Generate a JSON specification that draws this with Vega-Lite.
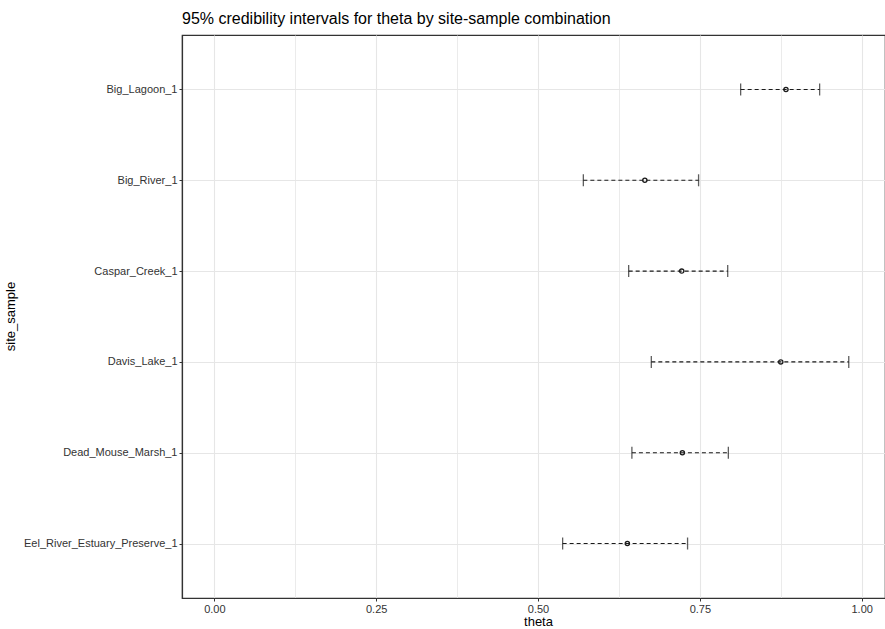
{
  "$schema": "https://vega.github.io/schema/vega-lite/v6.json",
  "autosize": {"type": "none"},
  "padding": {"left": 182, "top": 35, "right": 0, "bottom": 31},
  "width": 703,
  "height": 563,
  "background": "white",
  "config": {
    "font": "Liberation Sans",
    "view": {"stroke": "#333333", "strokeWidth": 1.2}
  },
  "title": {
    "text": "95% credibility intervals for theta by site-sample combination",
    "anchor": "start",
    "frame": "group",
    "font": "Liberation Sans",
    "fontSize": 16,
    "fontWeight": "normal",
    "color": "#000000",
    "offset": 8
  },
  "data": {
    "values": [
      {"site_sample": "Big_Lagoon_1", "low": 0.813, "mean": 0.883, "high": 0.935},
      {"site_sample": "Big_River_1", "low": 0.570, "mean": 0.665, "high": 0.748},
      {"site_sample": "Caspar_Creek_1", "low": 0.640, "mean": 0.722, "high": 0.793},
      {"site_sample": "Davis_Lake_1", "low": 0.675, "mean": 0.875, "high": 0.980},
      {"site_sample": "Dead_Mouse_Marsh_1", "low": 0.645, "mean": 0.723, "high": 0.794},
      {"site_sample": "Eel_River_Estuary_Preserve_1", "low": 0.538, "mean": 0.638, "high": 0.731}
    ]
  },
  "encoding": {
    "y": {
      "field": "site_sample",
      "type": "nominal",
      "sort": null,
      "scale": {"type": "point", "padding": 0.6},
      "axis": {
        "title": "site_sample",
        "titleFont": "Liberation Sans",
        "titleFontSize": 13,
        "titleFontWeight": "normal",
        "titleColor": "#000000",
        "titleAngle": -90,
        "titleX": -172,
        "titleY": 281,
        "titleAlign": "center",
        "titleBaseline": "middle",
        "labelFont": "Liberation Sans",
        "labelFontSize": 11,
        "labelColor": "#333333",
        "labelPadding": 2,
        "tickSize": 3,
        "tickColor": "#333333",
        "domainColor": "#333333",
        "domainWidth": 1.2,
        "grid": true,
        "gridColor": "#e6e6e6",
        "gridWidth": 1
      }
    }
  },
  "layer": [
    {
      "mark": {"type": "rule", "strokeDash": [4, 3], "color": "#1a1a1a", "strokeWidth": 1.1},
      "encoding": {
        "x": {
          "field": "low",
          "type": "quantitative",
          "scale": {"domain": [-0.05, 1.036], "nice": false, "zero": false},
          "axis": {
            "title": "theta",
            "titleFont": "Liberation Sans",
            "titleFontSize": 13,
            "titleFontWeight": "normal",
            "titleColor": "#000000",
            "titleX": 356,
            "titlePadding": 1,
            "values": [0, 0.125, 0.25, 0.375, 0.5, 0.625, 0.75, 0.875, 1],
            "labelExpr": "datum.value % 0.25 == 0 ? format(datum.value, '.2f') : ''",
            "labelFont": "Liberation Sans",
            "labelFontSize": 11,
            "labelColor": "#333333",
            "labelPadding": 2,
            "tickSize": 3,
            "tickColor": "#333333",
            "tickOpacity": {"condition": {"test": "datum.value % 0.25 != 0", "value": 0}, "value": 1},
            "domainColor": "#333333",
            "domainWidth": 1.2,
            "grid": true,
            "gridColor": "#e6e6e6",
            "gridWidth": {"condition": {"test": "datum.value % 0.25 != 0", "value": 0.8}, "value": 1.1}
          }
        },
        "x2": {"field": "high"}
      }
    },
    {
      "mark": {"type": "tick", "orient": "vertical", "color": "#1a1a1a", "size": 12, "thickness": 1.3},
      "encoding": {
        "x": {"field": "low", "type": "quantitative", "axis": {"title": "theta"}}
      }
    },
    {
      "mark": {"type": "tick", "orient": "vertical", "color": "#1a1a1a", "size": 12, "thickness": 1.3},
      "encoding": {
        "x": {"field": "high", "type": "quantitative", "axis": {"title": "theta"}}
      }
    },
    {
      "mark": {"type": "point", "filled": false, "color": "#1a1a1a", "size": 18, "strokeWidth": 1.3, "opacity": 1},
      "encoding": {
        "x": {"field": "mean", "type": "quantitative", "axis": {"title": "theta"}}
      }
    }
  ]
}
